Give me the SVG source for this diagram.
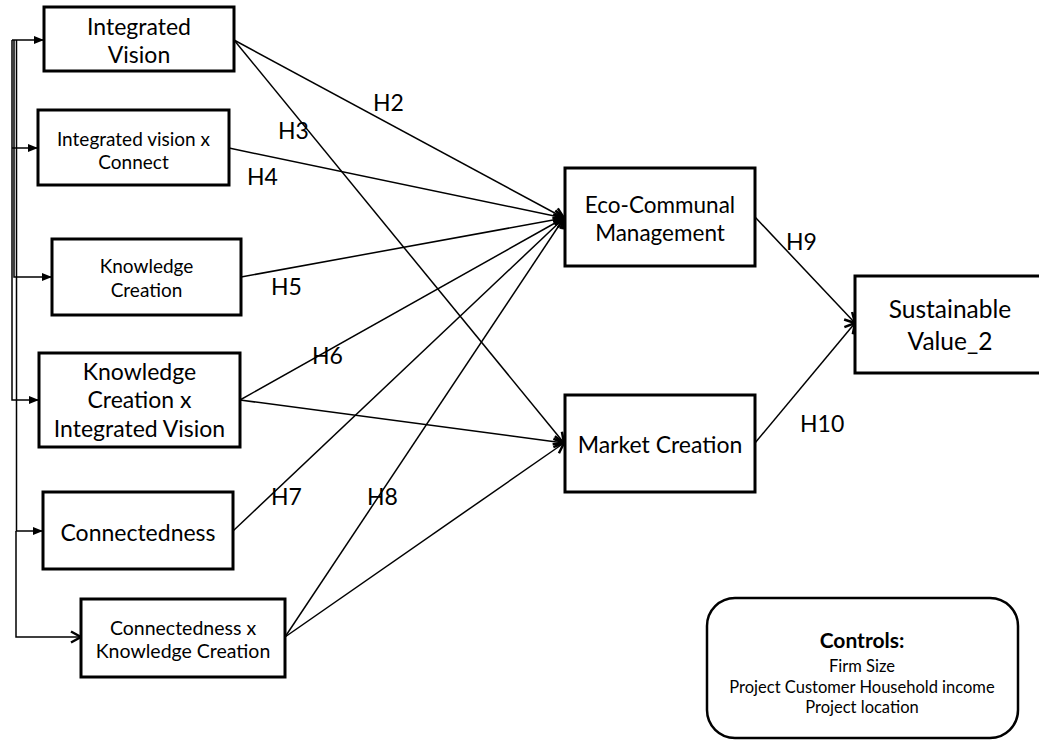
<svg xmlns="http://www.w3.org/2000/svg" width="1039" height="740" viewBox="0 0 1039 740">
  <style>
    .box { fill: #fff; stroke: #000; stroke-width: 3; }
    .ctl { fill: #fff; stroke: #000; stroke-width: 2.5; }
    .lbl { font-family: Lato, "Liberation Sans", sans-serif; fill: #000; text-anchor: middle; }
    .hyp { font-family: Lato, "Liberation Sans", sans-serif; fill: #000; font-size: 23px; }
    .wire { fill: none; stroke: #000; stroke-width: 1.5; }
  </style>
  <defs>
    <marker id="tri" markerUnits="userSpaceOnUse" markerWidth="10" markerHeight="10" viewBox="0 0 10 10" refX="10" refY="5" orient="auto">
      <path d="M0,1 L10,5 L0,9 Z" fill="#000"/>
    </marker>
    <marker id="chev" markerUnits="userSpaceOnUse" markerWidth="14" markerHeight="14" viewBox="0 0 14 14" refX="12" refY="7" orient="auto">
      <path d="M2,1.5 L12,7 L2,12.5" fill="none" stroke="#000" stroke-width="2.5"/>
    </marker>
  </defs>

  <!-- connectors -->
  <g id="connectors">
    <!-- left distribution lines -->
    <path class="wire" d="M12,40 V400 H39" marker-end="url(#tri)"/>
    <path class="wire" d="M14,40 V277 H52" marker-end="url(#tri)"/>
    <path class="wire" d="M16.5,40 V531 H43" marker-end="url(#tri)"/>
    <path class="wire" d="M12,40 H44" marker-end="url(#tri)"/>
    <path class="wire" d="M12,148 H38" marker-end="url(#tri)"/>
    <path class="wire" d="M16,531 V637 H81" marker-end="url(#chev)"/>

    <!-- paths into Eco-Communal Management -->
    <line class="wire" x1="234" y1="40" x2="564" y2="218" marker-end="url(#chev)"/>
    <line class="wire" x1="229" y1="148" x2="564" y2="218" marker-end="url(#chev)"/>
    <line class="wire" x1="241" y1="277" x2="564" y2="218" marker-end="url(#chev)"/>
    <line class="wire" x1="240" y1="400" x2="564" y2="218" marker-end="url(#chev)"/>
    <line class="wire" x1="233" y1="531" x2="564" y2="218" marker-end="url(#chev)"/>
    <line class="wire" x1="285" y1="637" x2="564" y2="218" marker-end="url(#chev)"/>

    <!-- paths into Market Creation -->
    <line class="wire" x1="234" y1="40" x2="564" y2="443" marker-end="url(#chev)"/>
    <line class="wire" x1="240" y1="400" x2="564" y2="443" marker-end="url(#chev)"/>
    <line class="wire" x1="285" y1="637" x2="564" y2="443" marker-end="url(#chev)"/>

    <!-- paths into Sustainable Value_2 -->
    <line class="wire" x1="755" y1="217" x2="855" y2="323" marker-end="url(#chev)"/>
    <line class="wire" x1="755" y1="443" x2="855" y2="323" marker-end="url(#chev)"/>

    <!-- hypothesis labels -->
    <text class="hyp" x="373" y="111">H2</text>
    <text class="hyp" x="278" y="139">H3</text>
    <text class="hyp" x="247" y="185">H4</text>
    <text class="hyp" x="271" y="295">H5</text>
    <text class="hyp" x="312" y="364">H6</text>
    <text class="hyp" x="271" y="505">H7</text>
    <text class="hyp" x="367" y="505">H8</text>
    <text class="hyp" x="786" y="250">H9</text>
    <text class="hyp" x="800" y="432">H10</text>
  </g>

  <g id="integrated-vision">
    <rect class="box" x="44" y="7" width="190" height="64"/>
    <text class="lbl" font-size="23" x="139" y="35">Integrated</text>
    <text class="lbl" font-size="23" x="139" y="63">Vision</text>
  </g>

  <g id="integrated-vision-x-connect">
    <rect class="box" x="38" y="110" width="191" height="75"/>
    <text class="lbl" font-size="19" x="133.5" y="146">Integrated vision x</text>
    <text class="lbl" font-size="19" x="133.5" y="169">Connect</text>
  </g>

  <g id="knowledge-creation">
    <rect class="box" x="52" y="239" width="189" height="76"/>
    <text class="lbl" font-size="19" x="146.5" y="273">Knowledge</text>
    <text class="lbl" font-size="19" x="146.5" y="297">Creation</text>
  </g>

  <g id="knowledge-creation-x-integrated-vision">
    <rect class="box" x="39" y="353" width="201" height="94"/>
    <text class="lbl" font-size="23" x="139.5" y="380">Knowledge</text>
    <text class="lbl" font-size="23" x="139.5" y="408">Creation x</text>
    <text class="lbl" font-size="23" x="139.5" y="437">Integrated Vision</text>
  </g>

  <g id="connectedness">
    <rect class="box" x="43" y="492" width="190" height="77"/>
    <text class="lbl" font-size="23" x="138" y="541">Connectedness</text>
  </g>

  <g id="connectedness-x-knowledge-creation">
    <rect class="box" x="81" y="599" width="204" height="78"/>
    <text class="lbl" font-size="19.5" x="183" y="635">Connectedness x</text>
    <text class="lbl" font-size="19.5" x="183" y="658">Knowledge Creation</text>
  </g>

  <g id="eco-communal-management">
    <rect class="box" x="565" y="168" width="190" height="98"/>
    <text class="lbl" font-size="22.5" x="660" y="213">Eco-Communal</text>
    <text class="lbl" font-size="22.5" x="660" y="241">Management</text>
  </g>

  <g id="market-creation">
    <rect class="box" x="565" y="395" width="190" height="97"/>
    <text class="lbl" font-size="23" x="660" y="453">Market Creation</text>
  </g>

  <g id="sustainable-value">
    <rect class="box" x="855" y="276" width="195" height="97"/>
    <text class="lbl" font-size="24.5" x="950" y="318">Sustainable</text>
    <text class="lbl" font-size="24.5" x="950" y="350">Value_2</text>
  </g>

  <g id="controls">
    <rect class="ctl" x="707" y="598" width="311" height="140" rx="28" ry="28"/>
    <text class="lbl" font-size="21" font-weight="bold" x="862" y="648">Controls:</text>
    <text class="lbl" font-size="16.5" x="862" y="672">Firm Size</text>
    <text class="lbl" font-size="16.5" x="862" y="693">Project Customer Household income</text>
    <text class="lbl" font-size="16.5" x="862" y="713">Project location</text>
  </g>
</svg>
